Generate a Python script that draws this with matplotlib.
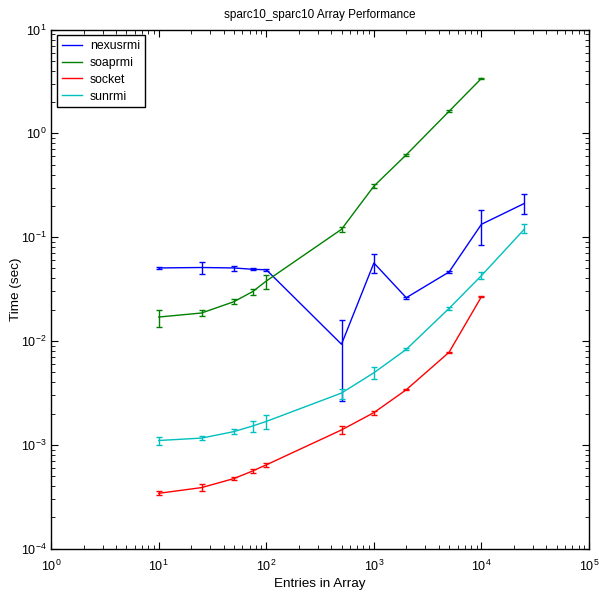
import matplotlib
matplotlib.use("Agg")
import matplotlib.pyplot as plt
from matplotlib.lines import Line2D
from matplotlib.ticker import LogLocator, NullFormatter

plt.rcParams['font.family'] = ['Liberation Sans', 'DejaVu Sans']
plt.rcParams['mathtext.fontset'] = 'custom'
plt.rcParams['mathtext.rm'] = 'Liberation Sans'
plt.rcParams['font.size'] = 8.5

# array sizes
entries = [10, 25, 50, 75, 100, 500, 1000, 2000, 5000, 10000, 25000]

# mean time (sec) and error bar low/high per implementation
nexus_t = [0.0505, 0.051, 0.0505, 0.049, 0.0485, 0.0093, 0.0564, 0.0261, 0.0462, 0.133, 0.211]
nexus_lo = [0.049, 0.044, 0.0475, 0.048, 0.0475, 0.00267, 0.0452, 0.0255, 0.0455, 0.0835, 0.166]
nexus_hi = [0.052, 0.057, 0.053, 0.050, 0.0495, 0.016, 0.0695, 0.0267, 0.0469, 0.183, 0.259]

soap_x = entries[:10]
soap_t = [0.017, 0.0186, 0.0239, 0.030, 0.0378, 0.119, 0.310, 0.621, 1.63, 3.38]
soap_lo = [0.0136, 0.0173, 0.0225, 0.028, 0.0315, 0.112, 0.295, 0.605, 1.60, 3.33]
soap_hi = [0.020, 0.0197, 0.0252, 0.032, 0.0436, 0.126, 0.325, 0.635, 1.66, 3.43]

sock_x = entries[:10]
sock_t = [0.000341, 0.000387, 0.000473, 0.000561, 0.000641, 0.00139, 0.00204, 0.00339, 0.00778, 0.0267]
sock_lo = [0.000328, 0.00036, 0.000455, 0.00054, 0.000615, 0.00127, 0.00195, 0.00334, 0.00765, 0.0264]
sock_hi = [0.000355, 0.00042, 0.000492, 0.000585, 0.000668, 0.00153, 0.00213, 0.00344, 0.00791, 0.0270]

sun_t = [0.0011, 0.00116, 0.00134, 0.00152, 0.00168, 0.00315, 0.00494, 0.0083, 0.0206, 0.0426, 0.119]
sun_lo = [0.001, 0.00111, 0.00126, 0.00134, 0.00143, 0.00278, 0.00434, 0.0081, 0.0199, 0.0391, 0.109]
sun_hi = [0.00118, 0.00121, 0.00143, 0.0017, 0.00192, 0.00347, 0.0056, 0.0085, 0.0213, 0.0464, 0.133]


def err(t, lo, hi):
    return [[a - b for a, b in zip(t, lo)], [c - a for a, c in zip(t, hi)]]


fig = plt.figure(figsize=(5.99, 5.96), dpi=100)
ax = fig.add_axes([0.0855, 0.0795, 0.8978, 0.871])

series = [
    ('nexusrmi', entries, nexus_t, nexus_lo, nexus_hi, (0, 0, 1)),
    ('soaprmi', soap_x, soap_t, soap_lo, soap_hi, (0, 0.5, 0)),
    ('socket', sock_x, sock_t, sock_lo, sock_hi, (1, 0, 0)),
    ('sunrmi', entries, sun_t, sun_lo, sun_hi, (0, 0.75, 0.75)),
]
handles = []
for name, x, t, lo, hi, c in series:
    ax.errorbar(x, t, yerr=err(t, lo, hi), color=c, lw=1, elinewidth=1,
                capsize=2.5, capthick=1)
    handles.append(Line2D([], [], color=c, lw=1, label=name))

ax.set_xscale('log')
ax.set_yscale('log')
ax.set_xlim(1, 1e5)
ax.set_ylim(1e-4, 10)
ax.xaxis.set_major_locator(LogLocator(base=10, numticks=10))
ax.yaxis.set_major_locator(LogLocator(base=10, numticks=10))
ax.xaxis.set_minor_locator(LogLocator(base=10, subs=range(2, 10), numticks=20))
ax.yaxis.set_minor_locator(LogLocator(base=10, subs=range(2, 10), numticks=20))
ax.xaxis.set_minor_formatter(NullFormatter())
ax.yaxis.set_minor_formatter(NullFormatter())
ax.tick_params(which='both', direction='in', top=True, right=True, labelsize=9)
ax.tick_params(which='major', length=5)
ax.tick_params(which='minor', length=3)
ax.tick_params(axis='x', which='major', pad=7)
for s in ax.spines.values():
    s.set_linewidth(1.0)

ax.set_title('sparc10_sparc10 Array Performance', fontsize=8.5, pad=8)
ax.set_xlabel('Entries in Array', fontsize=9.7, va='center')
ax.set_ylabel('Time (sec)', fontsize=9.7, va='center')
ax.xaxis.set_label_coords(0.5, -0.068)
ax.yaxis.set_label_coords(-0.066, 0.5)

leg = ax.legend(handles=handles, loc='upper left', fancybox=False,
                edgecolor='black', framealpha=1, fontsize=8.8,
                handlelength=1.7, handletextpad=0.6,
                borderaxespad=0.45, labelspacing=0.4)
leg.get_frame().set_linewidth(1.0)

fig.savefig('out.png', dpi=100)
